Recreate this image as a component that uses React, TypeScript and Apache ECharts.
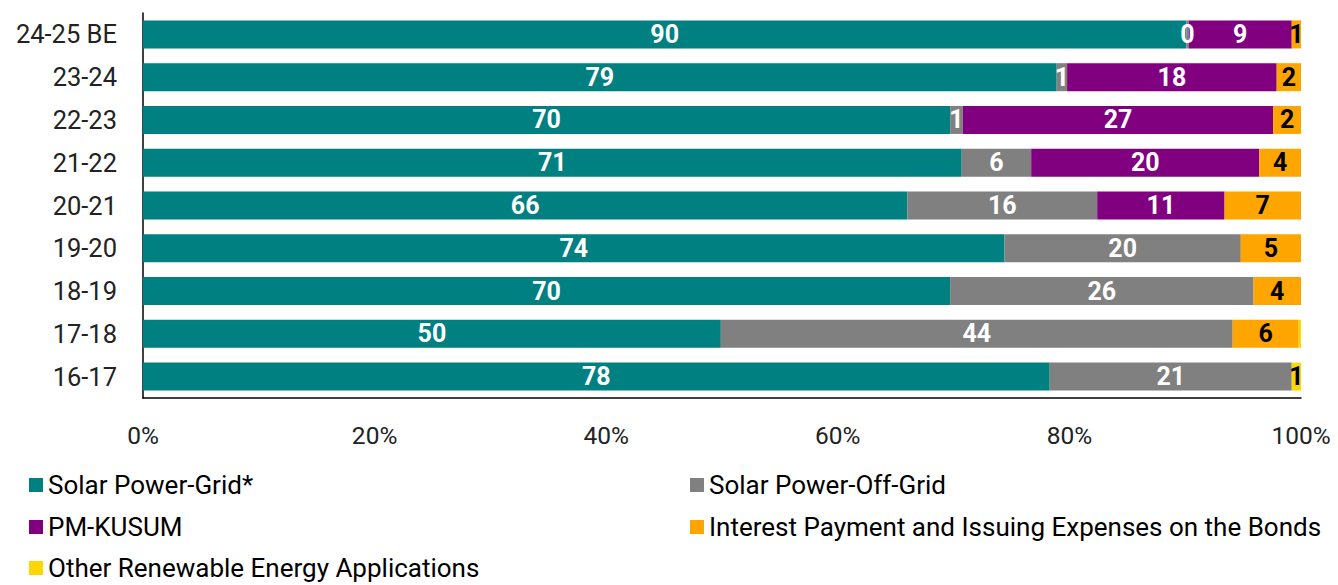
import React, { useEffect, useRef } from "react";
import * as echarts from "echarts";

const categories = ["16-17", "17-18", "18-19", "19-20", "20-21", "21-22", "22-23", "23-24", "24-25 BE"];
const solarGrid = [78.3, 49.9, 69.7, 74.4, 66.0, 70.7, 69.7, 78.9, 90.1];
const solarOffGrid = [20.9, 44.2, 26.2, 20.4, 16.4, 6.0, 1.1, 0.9, 0.2];
const pmKusum = [0, 0, 0, 0, 11.0, 19.7, 26.8, 18.1, 8.9];
const interest = [0, 5.7, 4.1, 5.2, 6.6, 3.6, 2.4, 2.1, 0.8];
const otherRenewable = [0.8, 0.2, 0, 0, 0, 0, 0, 0, 0];
const xTicks = [0, 20, 40, 60, 80, 100];

const seriesDefs = [
  { name: "Solar Power-Grid*", data: solarGrid, color: "#008080", labelColor: "#ffffff", minLabel: 0.01 },
  { name: "Solar Power-Off-Grid", data: solarOffGrid, color: "#808080", labelColor: "#ffffff", minLabel: 0.01 },
  { name: "PM-KUSUM", data: pmKusum, color: "#800080", labelColor: "#ffffff", minLabel: 0.01 },
  { name: "Interest Payment and Issuing Expenses on the Bonds", data: interest, color: "#FFA500", labelColor: "#000000", minLabel: 0.01 },
  { name: "Other Renewable Energy Applications", data: otherRenewable, color: "#FFD700", labelColor: "#000000", minLabel: 0.5 },
];

const legendPos = [
  { left: 29, top: 472 },
  { left: 690, top: 472 },
  { left: 29, top: 514 },
  { left: 690, top: 514 },
  { left: 29, top: 555 },
];

export default function App() {
  const ref = useRef<HTMLDivElement>(null);
  useEffect(() => {
    document.body.style.margin = "0";
    if (!ref.current) return;
    const chart = echarts.init(ref.current, null, { renderer: "svg" });
    chart.setOption({
      animation: false,
      backgroundColor: "#ffffff",
      textStyle: { fontFamily: "Roboto" },
      grid: { left: 143, right: 37, top: 13, bottom: 187, containLabel: false },
      xAxis: {
        type: "value",
        min: xTicks[0],
        max: xTicks[xTicks.length - 1],
        interval: 20,
        axisLine: { show: true, lineStyle: { color: "#000", width: 1.5 } },
        axisTick: { show: false },
        splitLine: { show: false },
        axisLabel: { formatter: "{value}%", fontSize: 24.5, color: "#222", margin: 25, fontFamily: "Roboto" },
      },
      yAxis: {
        type: "category",
        data: categories,
        axisLine: { show: true, lineStyle: { color: "#000", width: 1.5 } },
        axisTick: { show: false },
        axisLabel: { fontSize: 25.5, color: "#222", margin: 26, fontFamily: "Roboto" },
      },
      legend: seriesDefs.map((s, i) => ({
        data: [s.name],
        left: legendPos[i].left,
        top: legendPos[i].top,
        padding: 0,
        icon: "rect",
        itemWidth: 14,
        itemHeight: 14,
        itemGap: 0,
        textStyle: { fontSize: 26, color: "#000", fontFamily: "Roboto", lineHeight: 26 },
      })),
      series: seriesDefs.map((s) => ({
        name: s.name,
        type: "bar",
        stack: "total",
        barWidth: 28,
        data: s.data,
        itemStyle: { color: s.color },
        label: {
          show: true,
          position: "inside",
          color: s.labelColor,
          fontSize: 25,
          fontWeight: "bold",
          fontFamily: "Roboto",
          formatter: (p: any) => (p.value >= s.minLabel ? String(Math.round(p.value)) : ""),
        },
      })),
    });
    return () => chart.dispose();
  }, []);
  return <div ref={ref} style={{ width: 1338, height: 585 }} />;
}
